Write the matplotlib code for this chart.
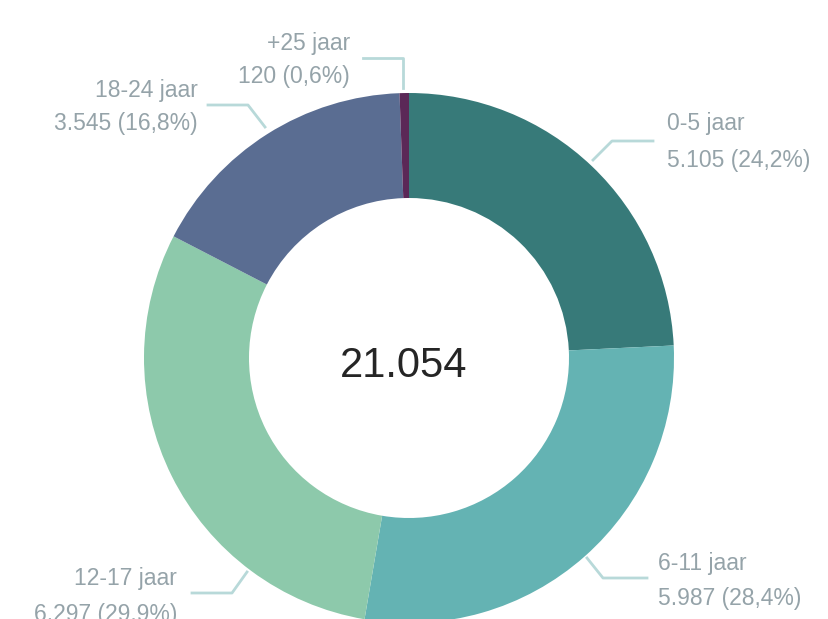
import matplotlib.pyplot as plt
from matplotlib import font_manager as fm

# data
categorieen = ["0-5 jaar", "6-11 jaar", "12-17 jaar", "18-24 jaar", "+25 jaar"]
aantallen = [5105, 5987, 6297, 3545, 120]
kleuren = ["#377a79", "#64b3b3", "#8dc9ab", "#5a6d92", "#5b2857"]

W, H = 829, 619
cx, cy = 409, H - 358
r_out, r_in = 265, 160

# label layout in pixels (x, baseline line 1, baseline line 2, ha) and leader lines
labels_pos = [
    (667, 130, 167, "left"),
    (658, 570, 605, "left"),
    (177, 585, 621, "right"),
    (198, 97, 130, "right"),
    (350, 50, 83, "right"),
]
leaders = [
    [(593, 160), (612, 141), (653, 141)],
    [(587, 558), (603, 578), (647, 578)],
    [(247, 572), (232, 593), (192, 593)],
    [(265, 127), (248, 105), (208, 105)],
    [(403, 88), (403, 58), (363, 58)],
]

# pick a narrow font if there is one
namen = {f.name for f in fm.fontManager.ttflist}
if "Liberation Sans Narrow" in namen:
    font, fs, fs_groot = ["Liberation Sans Narrow", "DejaVu Sans"], 19.5, 35
else:
    font, fs, fs_groot = ["Liberation Sans", "DejaVu Sans"], 16.5, 30

tekstkleur = "#95a3a9"
lijnkleur = "#b8d9d9"


def nl(n):
    return f"{n:,}".replace(",", ".")


fig = plt.figure(figsize=(W / 100, H / 100), dpi=100)
ax = fig.add_axes([0, 0, 1, 1])

ax.pie(aantallen, colors=kleuren, startangle=90, counterclock=False,
       center=(cx, cy), radius=r_out,
       wedgeprops=dict(width=r_out - r_in, linewidth=0), frame=True)
ax.set_xlim(0, W)
ax.set_ylim(0, H)
ax.set_aspect("equal")
ax.axis("off")

totaal = sum(aantallen)
for cat, n, (x, y1, y2, ha), pts in zip(categorieen, aantallen, labels_pos, leaders):
    pct = f"{100 * n / totaal:.1f}".replace(".", ",")
    ax.text(x, H - y1, cat, ha=ha, va="baseline", fontsize=fs,
            color=tekstkleur, family=font)
    ax.text(x, H - y2, f"{nl(n)} ({pct}%)", ha=ha, va="baseline",
            fontsize=fs, color=tekstkleur, family=font)
    xs = [p[0] for p in pts]
    ys = [H - p[1] for p in pts]
    ax.plot(xs, ys, color=lijnkleur, lw=2)

ax.text(404, H - 377, nl(totaal), ha="center", va="baseline", fontsize=fs_groot,
        color="#252525", family=font)

fig.savefig("out.png", dpi=100)
